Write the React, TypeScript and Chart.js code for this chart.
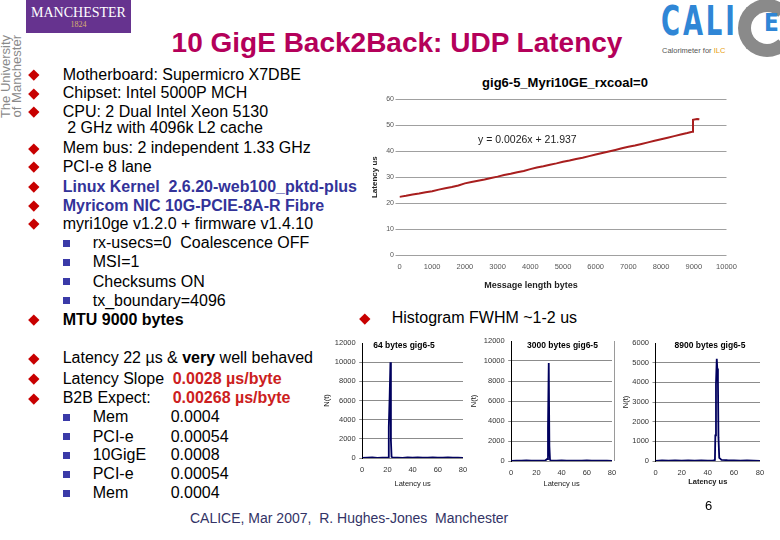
import React, { useEffect, useRef } from 'react';
import { Chart, registerables } from 'chart.js';

Chart.register(...registerables);

const FONT = '"Liberation Sans", Arial, Helvetica, sans-serif';

// ---- Main chart: latency vs message length ----
const messageLengthBytes = [
  0, 200, 400, 600, 800, 1000, 1200, 1400, 1600, 1800, 2000, 2200, 2400, 2600, 2800,
  3000, 3200, 3400, 3600, 3800, 4000, 4200, 4400, 4600, 4800, 5000, 5200, 5400, 5600,
  5800, 6000, 6200, 6400, 6600, 6800, 7000, 7200, 7400, 7600, 7800, 8000, 8200, 8400,
  8600, 8800, 8950, 8975, 9100, 9170,
];
const latencyUs = [
  22.4, 22.8, 23.3, 23.7, 24.2, 24.6, 25.2, 25.7, 26.2, 26.8, 27.6, 28.1, 28.6, 29.1, 29.7,
  30.2, 30.8, 31.3, 31.9, 32.4, 33.1, 33.7, 34.2, 34.8, 35.3, 35.9, 36.4, 37.0, 37.5,
  38.1, 38.7, 39.3, 39.9, 40.5, 41.1, 41.7, 42.2, 42.8, 43.4, 44.0, 44.6, 45.2, 45.8,
  46.4, 47.0, 47.5, 52.1, 52.4, 52.3,
];
const mainXTicks = [0, 1000, 2000, 3000, 4000, 5000, 6000, 7000, 8000, 9000, 10000];
const mainYTicks = [0, 10, 20, 30, 40, 50, 60];

// ---- Histograms ----
const hist64Latency = [0, 4, 8, 12, 16, 19, 20.6, 21.1, 21.8, 22.4, 22.8, 23.3, 24, 28, 32, 36, 40, 44, 48, 52, 56, 60, 64, 68, 72, 76, 80];
const hist64Counts = [0, 30, 60, 20, 40, 30, 60, 3200, 6500, 10000, 1800, 120, 60, 40, 20, 50, 30, 60, 40, 30, 60, 40, 30, 50, 40, 30, 20];

const hist3000Latency = [0, 4, 8, 12, 16, 20, 24, 27, 28.6, 29.2, 29.8, 30.3, 30.8, 31.4, 32, 36, 40, 44, 48, 52, 56, 60, 64, 68, 72, 76, 80];
const hist3000Counts = [0, 40, 30, 50, 30, 40, 30, 50, 200, 3300, 9800, 1500, 120, 60, 40, 30, 50, 40, 30, 40, 30, 50, 40, 30, 40, 30, 20];

const hist8900Latency = [0, 5, 10, 15, 20, 25, 30, 35, 40, 44, 45.5, 45.8, 46.3, 46.9, 47.3, 47.8, 48.2, 48.8, 49.5, 50.5, 55, 60, 65, 70, 75, 80];
const hist8900Counts = [0, 30, 20, 30, 20, 30, 20, 30, 20, 30, 50, 1300, 3900, 5200, 4700, 4100, 1200, 160, 120, 60, 40, 30, 20, 30, 20, 10];

const histXTicks = [0, 20, 40, 60, 80];
const histYTicks12k = [0, 2000, 4000, 6000, 8000, 10000, 12000];
const histYTicks6k = [0, 1000, 2000, 3000, 4000, 5000, 6000];

const plain = (v: any) => String(v);

function MainChart() {
  const ref = useRef<HTMLCanvasElement>(null);
  useEffect(() => {
    const chart = new Chart(ref.current as HTMLCanvasElement, {
      type: 'line',
      data: {
        datasets: [
          {
            data: messageLengthBytes.map((x, i) => ({ x, y: latencyUs[i] })),
            borderColor: '#a81e1e',
            borderWidth: 2,
            pointRadius: 0,
            tension: 0,
            fill: false,
          },
        ],
      },
      options: {
        animation: false,
        responsive: false,
        events: [],
        layout: { padding: { left: 0, top: 14.3, right: 33.5, bottom: 0 } },
        plugins: { legend: { display: false }, tooltip: { enabled: false }, title: { display: false } },
        scales: {
          x: {
            type: 'linear',
            min: 0,
            max: 10000,
            afterBuildTicks: (s: any) => {
              s.ticks = mainXTicks.map((v) => ({ value: v }));
            },
            ticks: { font: { family: FONT, size: 7.5 }, color: '#555', padding: 3.5, maxRotation: 0, autoSkip: false, callback: plain },
            grid: { display: true, drawOnChartArea: false, color: 'rgba(0,0,0,0)', tickLength: 4 },
            border: { display: false },
            afterFit: (s: any) => {
              s.height = 45;
            },
          },
          y: {
            type: 'linear',
            min: 0,
            max: 60,
            afterBuildTicks: (s: any) => {
              s.ticks = mainYTicks.map((v) => ({ value: v }));
            },
            ticks: { font: { family: FONT, size: 7 }, color: '#555', padding: 1.5, callback: plain },
            grid: { color: '#a0a0a0', lineWidth: 1, tickLength: 4 },
            border: { display: false },
            title: {
              display: true,
              text: 'Latency us',
              font: { family: FONT, size: 8, weight: 'bold' },
              color: '#222',
              padding: { top: 10.2, bottom: 0 },
            },
            afterFit: (s: any) => {
              s.width = 39.5;
            },
          },
        },
      } as any,
    });
    return () => chart.destroy();
  }, []);
  return (
    <canvas
      ref={ref}
      width={400}
      height={215}
      style={{ position: 'absolute', left: 360, top: 85, width: 400, height: 215 }}
    />
  );
}

type Area = { l: number; t: number; r: number; b: number };

function Histogram(props: {
  lat: number[];
  counts: number[];
  yMax: number;
  yTicks: number[];
  area: Area;
  yWidth: number;
  xTitlePad: number;
  xTitleBold?: boolean;
}) {
  const { lat, counts, yMax, yTicks, area, yWidth, xTitlePad, xTitleBold } = props;
  const padTop = 12;
  const padRight = 14;
  const xHeight = 30;
  const w = area.r - area.l + yWidth + padRight;
  const h = area.b - area.t + padTop + xHeight;
  const ref = useRef<HTMLCanvasElement>(null);
  useEffect(() => {
    const chart = new Chart(ref.current as HTMLCanvasElement, {
      type: 'line',
      data: {
        datasets: [
          {
            data: lat.map((x, i) => ({ x, y: counts[i] })),
            borderColor: '#00005e',
            borderWidth: 1.8,
            pointRadius: 0,
            tension: 0,
            fill: false,
          },
        ],
      },
      options: {
        animation: false,
        responsive: false,
        events: [],
        layout: { padding: { left: 0, top: padTop, right: padRight, bottom: 0 } },
        plugins: { legend: { display: false }, tooltip: { enabled: false } },
        scales: {
          x: {
            type: 'linear',
            min: 0,
            max: 80,
            afterBuildTicks: (s: any) => {
              s.ticks = histXTicks.map((v) => ({ value: v }));
            },
            ticks: { font: { family: FONT, size: 7.5 }, color: '#333', padding: 4, maxRotation: 0, autoSkip: false, callback: plain },
            grid: { display: true, drawOnChartArea: false, color: 'rgba(0,0,0,0)', tickLength: 3 },
            border: { display: false },
            title: {
              display: true,
              text: 'Latency us',
              font: { family: FONT, size: 7.5, weight: xTitleBold ? 'bold' : 'normal' },
              color: '#222',
              padding: { top: 0, bottom: xTitlePad },
            },
            afterFit: (s: any) => {
              s.height = xHeight;
            },
          },
          y: {
            type: 'linear',
            min: 0,
            max: yMax,
            afterBuildTicks: (s: any) => {
              s.ticks = yTicks.map((v) => ({ value: v }));
            },
            ticks: { font: { family: FONT, size: 7.5 }, color: '#333', padding: 3.5, callback: plain },
            grid: {
              color: (c: any) => (c.tick && c.tick.value === yMax ? 'rgba(0,0,0,0)' : '#8c8c8c'),
              tickLength: 3,
            },
            border: { display: true, color: '#000', width: 1 },
            title: {
              display: true,
              text: 'N(t)',
              font: { family: FONT, size: 7.5 },
              color: '#222',
              padding: { top: 0, bottom: 0 },
            },
            afterFit: (s: any) => {
              s.width = yWidth;
            },
          },
        },
      } as any,
    });
    return () => chart.destroy();
  }, []);
  return (
    <canvas
      ref={ref}
      width={w}
      height={h}
      style={{ position: 'absolute', left: area.l - yWidth, top: area.t - padTop, width: w, height: h }}
    />
  );
}

const Line = (p: { x: number; y: number; children: any; style?: any }) => (
  <div
    style={{
      position: 'absolute',
      left: p.x,
      top: p.y - 10,
      height: 20,
      lineHeight: '20px',
      fontSize: 16,
      whiteSpace: 'pre',
      color: '#000',
      ...(p.style || {}),
    }}
  >
    {p.children}
  </div>
);

const Diamond = (p: { x: number; y: number }) => (
  <div
    style={{
      position: 'absolute',
      left: p.x - 3.8,
      top: p.y - 3.8,
      width: 7.6,
      height: 7.6,
      background: '#c80000',
      transform: 'rotate(45deg)',
    }}
  />
);

const Square = (p: { x: number; y: number }) => (
  <div
    style={{
      position: 'absolute',
      left: p.x - 3.5,
      top: p.y - 3.5,
      width: 7,
      height: 7,
      background: '#3a3aa8',
    }}
  />
);

const BLUE = '#333399';
const RED = '#cc2020';

export default function App() {
  const topBullets: { y: number; text: string; style?: any; bullet: boolean }[] = [
    { y: 75, text: 'Motherboard: Supermicro X7DBE', bullet: true },
    { y: 93.3, text: 'Chipset: Intel 5000P MCH', bullet: true },
    { y: 111.7, text: 'CPU: 2 Dual Intel Xeon 5130', bullet: true },
    { y: 128.3, text: ' 2 GHz with 4096k L2 cache', bullet: false },
    { y: 148.3, text: 'Mem bus: 2 independent 1.33 GHz', bullet: true },
    { y: 166.7, text: 'PCI-e 8 lane', bullet: true },
    { y: 186.7, text: 'Linux Kernel  2.6.20-web100_pktd-plus', bullet: true, style: { fontWeight: 'bold', color: BLUE } },
    { y: 205.7, text: 'Myricom NIC 10G-PCIE-8A-R Fibre', bullet: true, style: { fontWeight: 'bold', color: BLUE } },
    { y: 224, text: 'myri10ge v1.2.0 + firmware v1.4.10', bullet: true },
  ];
  const subBullets = [
    { y: 243.3, text: 'rx-usecs=0  Coalescence OFF' },
    { y: 262.3, text: 'MSI=1' },
    { y: 281.7, text: 'Checksums ON' },
    { y: 300.7, text: 'tx_boundary=4096' },
  ];
  const expectRows = [
    { y: 417.3, label: 'Mem', value: '0.0004' },
    { y: 436.7, label: 'PCI-e', value: '0.00054' },
    { y: 455, label: '10GigE', value: '0.0008' },
    { y: 474.3, label: 'PCI-e', value: '0.00054' },
    { y: 493.3, label: 'Mem', value: '0.0004' },
  ];

  return (
    <div
      style={{
        position: 'absolute',
        left: 0,
        top: 0,
        width: 780,
        height: 540,
        overflow: 'hidden',
        background: '#fff',
        fontFamily: FONT,
        color: '#000',
      }}
    >
      {/* Manchester logo */}
      <div style={{ position: 'absolute', left: 26, top: 0, width: 105, height: 33, background: '#66338f' }}>
        <div
          style={{
            position: 'absolute',
            left: 0,
            top: 5,
            width: 105,
            textAlign: 'center',
            fontFamily: '"Liberation Serif", "Times New Roman", serif',
            fontSize: 14,
            lineHeight: '15px',
            color: '#fff',
          }}
        >
          MANCHESTER
        </div>
        <div
          style={{
            position: 'absolute',
            left: 0,
            top: 20,
            width: 105,
            textAlign: 'center',
            fontFamily: '"Liberation Serif", "Times New Roman", serif',
            fontSize: 8,
            lineHeight: '9px',
            color: '#d8b070',
          }}
        >
          1824
        </div>
      </div>
      <div
        style={{
          position: 'absolute',
          left: -34,
          top: 69,
          width: 90,
          height: 22,
          transform: 'rotate(-90deg)',
          textAlign: 'right',
          fontSize: 13,
          lineHeight: '11px',
          color: '#8a8a8a',
          whiteSpace: 'nowrap',
        }}
      >
        <div>The University</div>
        <div>of Manchester</div>
      </div>

      {/* CALICE logo */}
      <div
        style={{
          position: 'absolute',
          left: 738,
          top: -1,
          width: 58,
          height: 58,
          borderRadius: '50%',
          border: '13px solid #8a8a8a',
          borderRightColor: 'transparent',
          boxSizing: 'border-box',
        }}
      />
      <div
        style={{
          position: 'absolute',
          left: 661,
          top: 1,
          fontFamily: '"DejaVu Sans Condensed", "DejaVu Sans", sans-serif',
          fontWeight: 'bold',
          fontSize: 40,
          lineHeight: '40px',
          color: '#2f86d6',
          letterSpacing: 4,
          transform: 'scaleX(0.72)',
          transformOrigin: 'left top',
          whiteSpace: 'nowrap',
        }}
      >
        CALI
      </div>
      <div
        style={{
          position: 'absolute',
          left: 764,
          top: 11,
          fontFamily: '"DejaVu Sans Condensed", "DejaVu Sans", sans-serif',
          fontWeight: 'bold',
          fontSize: 24,
          lineHeight: '24px',
          color: '#2f86d6',
        }}
      >
        E
      </div>
      <div
        style={{ position: 'absolute', left: 662, top: 46, fontSize: 7.5, lineHeight: '9px', color: '#555', whiteSpace: 'nowrap' }}
      >
        Calorimeter for <span style={{ color: '#e8a010' }}>ILC</span>
      </div>

      {/* Title */}
      <div
        style={{
          position: 'absolute',
          left: 97,
          top: 27,
          width: 600,
          textAlign: 'center',
          fontSize: 28,
          lineHeight: '32px',
          fontWeight: 'bold',
          color: '#b4005a',
          whiteSpace: 'nowrap',
        }}
      >
        10 GigE Back2Back: UDP Latency
      </div>

      {/* Top bullet list */}
      {topBullets.map((b, i) => (
        <React.Fragment key={'t' + i}>
          {b.bullet && <Diamond x={33.3} y={b.y} />}
          <Line x={62.7} y={b.y} style={b.style}>
            {b.text}
          </Line>
        </React.Fragment>
      ))}
      {subBullets.map((b, i) => (
        <React.Fragment key={'s' + i}>
          <Square x={66.7} y={b.y} />
          <Line x={92.7} y={b.y}>
            {b.text}
          </Line>
        </React.Fragment>
      ))}
      <Diamond x={33.3} y={320} />
      <Line x={62.7} y={320} style={{ fontWeight: 'bold' }}>
        MTU 9000 bytes
      </Line>

      <Diamond x={365} y={318.3} />
      <Line x={391.7} y={318.3}>
        Histogram FWHM ~1-2 us
      </Line>

      {/* Lower bullet list */}
      <Diamond x={33.3} y={358.3} />
      <Line x={62.7} y={358.3}>
        Latency 22 µs &amp; <b>very</b> well behaved
      </Line>
      <Diamond x={33.3} y={379} />
      <Line x={62.7} y={379}>
        Latency Slope
      </Line>
      <Line x={172.7} y={379} style={{ fontWeight: 'bold', color: RED }}>
        0.0028 µs/byte
      </Line>
      <Diamond x={33.3} y={398.3} />
      <Line x={62.7} y={398.3}>
        B2B Expect:
      </Line>
      <Line x={172.7} y={398.3} style={{ fontWeight: 'bold', color: RED }}>
        0.00268 µs/byte
      </Line>
      {expectRows.map((r, i) => (
        <React.Fragment key={'e' + i}>
          <Square x={66.7} y={r.y} />
          <Line x={92.7} y={r.y}>
            {r.label}
          </Line>
          <Line x={170.7} y={r.y}>
            {r.value}
          </Line>
        </React.Fragment>
      ))}

      {/* Main chart */}
      <div
        style={{
          position: 'absolute',
          left: 365,
          top: 75,
          width: 400,
          textAlign: 'center',
          fontSize: 13,
          lineHeight: '16px',
          fontWeight: 'bold',
          color: '#000',
          whiteSpace: 'nowrap',
        }}
      >
        gig6-5_Myri10GE_rxcoal=0
      </div>
      <MainChart />
      <div
        style={{ position: 'absolute', left: 478, top: 132, fontSize: 10.5, lineHeight: '14px', color: '#222', whiteSpace: 'nowrap' }}
      >
        y = 0.0026x + 21.937
      </div>
      <div
        style={{
          position: 'absolute',
          left: 431,
          top: 279,
          width: 200,
          textAlign: 'center',
          fontSize: 9,
          lineHeight: '12px',
          fontWeight: 'bold',
          color: '#222',
          whiteSpace: 'nowrap',
        }}
      >
        Message length bytes
      </div>

      {/* Histograms */}
      <Histogram
        lat={hist64Latency}
        counts={hist64Counts}
        yMax={12000}
        yTicks={histYTicks12k}
        area={{ l: 361.7, t: 342.7, r: 462.7, b: 458.3 }}
        yWidth={40.2}
        xTitlePad={0}
      />
      <Histogram
        lat={hist3000Latency}
        counts={hist3000Counts}
        yMax={12000}
        yTicks={histYTicks12k}
        area={{ l: 510.7, t: 341, r: 611.7, b: 461 }}
        yWidth={42.2}
        xTitlePad={2.2}
      />
      <Histogram
        lat={hist8900Latency}
        counts={hist8900Counts}
        yMax={6000}
        yTicks={histYTicks6k}
        area={{ l: 655, t: 342.7, r: 760, b: 461 }}
        yWidth={34.5}
        xTitlePad={4.8}
        xTitleBold
      />
      <div style={{ position: 'absolute', left: 614, top: 341, width: 1, height: 120, background: '#9a9a9a' }} />
      {[
        { x: 404, text: '64 bytes gig6-5' },
        { x: 562.5, text: '3000 bytes gig6-5' },
        { x: 710, text: '8900 bytes gig6-5' },
      ].map((t, i) => (
        <div
          key={'h' + i}
          style={{
            position: 'absolute',
            left: t.x - 60,
            top: 339,
            width: 120,
            textAlign: 'center',
            fontSize: 8.5,
            lineHeight: '12px',
            fontWeight: 'bold',
            color: '#000',
            whiteSpace: 'nowrap',
          }}
        >
          {t.text}
        </div>
      ))}

      {/* Footer */}
      <div
        style={{ position: 'absolute', left: 190, top: 510, fontSize: 14, lineHeight: '16px', color: '#333366', whiteSpace: 'pre' }}
      >
        CALICE, Mar 2007,  R. Hughes-Jones  Manchester
      </div>
      <div style={{ position: 'absolute', left: 705, top: 498, fontSize: 13, lineHeight: '16px', color: '#000' }}>6</div>
    </div>
  );
}
